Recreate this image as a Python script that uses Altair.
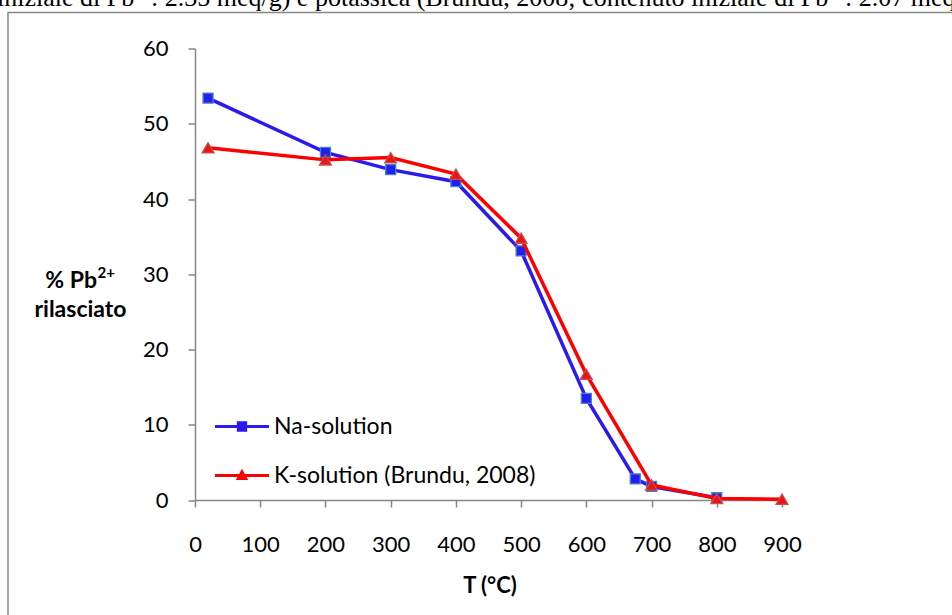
import altair as alt
import pandas as pd

# ---- data ----
series_names = ["Na-solution", "K-solution (Brundu, 2008)"]
na_T = [20, 200, 300, 400, 500, 600, 675, 700, 800]
na_val = [53.4, 46.2, 43.9, 42.3, 33.1, 13.5, 2.8, 1.8, 0.3]
k_T = [20, 200, 300, 400, 500, 600, 700, 800, 900]
k_val = [46.8, 45.2, 45.5, 43.3, 34.8, 16.7, 2.0, 0.2, 0.1]
x_ticks = [0, 100, 200, 300, 400, 500, 600, 700, 800, 900]
y_ticks = [0, 10, 20, 30, 40, 50, 60]

caption = "iniziale di Pb\u00b2\u207a: 2.35 meq/g) e potassica (Brundu, 2008; contenuto iniziale di Pb\u00b2\u207a: 2.07 meq/g)"

line_colors = ["#2a1af0", "#ff0000"]
fill_colors = ["#2020f2", "#ee1414"]
outline_colors = ["#4f81bd", "#c0504d"]
marker_shapes = ["square", "triangle-up"]
marker_sizes = [100, 140]

rows = []
for t, v in zip(na_T, na_val):
    rows.append({"T": t, "val": v, "series": series_names[0]})
for t, v in zip(k_T, k_val):
    rows.append({"T": t, "val": v, "series": series_names[1]})
df = pd.DataFrame(rows)
df["order"] = range(len(df))

W, H = 587, 451.5
FONT = "Lato"

xs = alt.X("T:Q", scale=alt.Scale(domain=[0, 900], nice=False, zero=False),
           axis=alt.Axis(values=x_ticks, title=None, grid=False, domainColor="#868686",
                         domainWidth=1.5, tickColor="#868686", tickWidth=1.5, tickSize=7,
                         labelFont=FONT, labelFontSize=22, labelColor="#000000",
                         labelPadding=27, labelBaseline="top", labelFlush=False))
ys = alt.Y("val:Q", scale=alt.Scale(domain=[0, 60], nice=False),
           axis=alt.Axis(values=y_ticks, title=None, grid=False, domainColor="#868686",
                         domainWidth=1.5, tickColor="#868686", tickWidth=1.5, tickSize=7,
                         labelFont=FONT, labelFontSize=22, labelColor="#000000",
                         labelPadding=20, labelFlush=False))

# legend symbols: line segment + marker, as custom symbol paths
P1 = "M-1,-0.06L1,-0.06L1,0.06L-1,0.06Z M-0.19,-0.19L0.19,-0.19L0.19,0.19L-0.19,0.19Z"
P2 = "M-1,-0.06L1,-0.06L1,0.06L-1,0.06Z M0,-0.25L0.23,0.17L-0.23,0.17Z"

legend = alt.Legend(
    title=None, orient="none", legendX=20, legendY=351, padding=0,
    labelFont=FONT, labelFontSize=23, labelColor="#000000", labelOffset=5, labelLimit=0,
    symbolSize=2916, rowPadding=10, symbolStrokeWidth=0, symbolOpacity=1)

legend_layer = alt.Chart(df).transform_filter("false").mark_point(filled=True, opacity=0).encode(
    x=alt.X("T:Q"), y=alt.Y("val:Q"),
    shape=alt.Shape("series:N", scale=alt.Scale(domain=series_names, range=[P1, P2]), legend=legend),
    fill=alt.Fill("series:N", scale=alt.Scale(domain=series_names, range=line_colors), legend=legend),
)

layers = []
for i, s in enumerate(series_names):
    sub = alt.Chart(df).transform_filter(alt.datum.series == s)
    layers.append(sub.mark_line(strokeWidth=3.5, color=line_colors[i]).encode(
        x=xs, y=ys, order="order:Q"))
    layers.append(sub.mark_point(filled=True, shape=marker_shapes[i], size=marker_sizes[i],
                                 fill=fill_colors[i], stroke=outline_colors[i],
                                 strokeWidth=1.3, opacity=1).encode(x=xs, y=ys))

base = alt.Chart(pd.DataFrame({"k": [0]}))

frame = base.mark_rect(fill=None, stroke="#868686", strokeWidth=1.5).encode(
    x=alt.value(-187), x2=alt.value(800), y=alt.value(-36), y2=alt.value(600))

cap = base.mark_text(align="left", baseline="alphabetic", font="Liberation Serif",
                     fontSize=26, color="#000000").encode(
    x=alt.value(-198), y=alt.value(-42.5), text=alt.value(caption))

ytitle1 = base.mark_text(align="right", baseline="alphabetic", font=FONT, fontSize=23,
                         fontWeight="bold", color="#000000").encode(
    x=alt.value(-98), y=alt.value(239.5), text=alt.value("% Pb"))
ytitle_sup = base.mark_text(align="left", baseline="alphabetic", font=FONT, fontSize=15,
                            fontWeight="bold", color="#000000").encode(
    x=alt.value(-97.5), y=alt.value(229), text=alt.value("2+"))
ytitle2 = base.mark_text(align="center", baseline="alphabetic", font=FONT, fontSize=23,
                         fontWeight="bold", color="#000000").encode(
    x=alt.value(-114.5), y=alt.value(268.5), text=alt.value("rilasciato"))
xtitle = base.mark_text(align="center", baseline="alphabetic", font=FONT, fontSize=22,
                        fontWeight="bold", color="#000000").encode(
    x=alt.value(295), y=alt.value(544.5), text=alt.value("T (\u00b0C)"))

chart = alt.layer(frame, cap, legend_layer, *layers, ytitle1, ytitle_sup, ytitle2, xtitle).properties(
    width=W, height=H,
    autosize=alt.AutoSizeParams(type="none"),
    padding={"left": 195, "top": 48.5, "right": 170, "bottom": 115},
    background="#ffffff",
).configure_view(stroke=None)

chart.save("out.html", embed_options={"renderer": "svg", "actions": False})
